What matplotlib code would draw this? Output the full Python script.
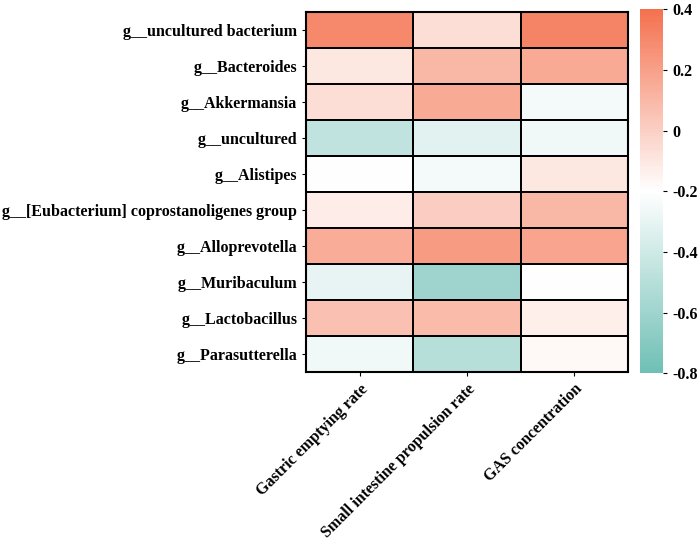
import numpy as np
import matplotlib.pyplot as plt
from matplotlib.colors import LinearSegmentedColormap, TwoSlopeNorm

genera = ["g__uncultured bacterium", "g__Bacteroides", "g__Akkermansia", "g__uncultured",
          "g__Alistipes", "g__[Eubacterium] coprostanoligenes group", "g__Alloprevotella",
          "g__Muribaculum", "g__Lactobacillus", "g__Parasutterella"]
traits = ["Gastric emptying rate", "Small intestine propulsion rate", "GAS concentration"]

gastric = [0.30, -0.10, -0.06, -0.46, -0.20, -0.12, 0.15, -0.30, 0.06, -0.26]
intestine = [-0.06, 0.10, 0.16, -0.32, -0.25, 0.01, 0.22, -0.60, 0.09, -0.50]
gas = [0.32, 0.16, -0.25, -0.26, -0.10, 0.10, 0.18, -0.20, -0.13, -0.17]

vals = np.array([gastric, intestine, gas]).T

plt.rcParams['font.family'] = ['Liberation Serif', 'DejaVu Serif']
plt.rcParams['font.weight'] = 'bold'

cmap = LinearSegmentedColormap.from_list("tw", ["#6fbfb5", "#ffffff", "#f4714f"])
norm = TwoSlopeNorm(vcenter=-0.2, vmin=-0.8, vmax=0.4)

fig = plt.figure(figsize=(6.99, 5.44), dpi=100)
ax = fig.add_axes([0.438, 0.316, 0.46, 0.662])
cax = fig.add_axes([0.916, 0.314, 0.033, 0.669])

mesh = ax.pcolormesh(vals, cmap=cmap, norm=norm, edgecolors="black", linewidth=1.2)
ax.set_xlim(0, 3)
ax.set_ylim(10, 0)
ax.set_xticks(np.arange(3) + 0.5)
ax.set_xticklabels(traits, rotation=45, ha="right", rotation_mode="anchor", fontsize=11.5)
ax.set_yticks(np.arange(10) + 0.5)
ax.set_yticklabels(genera, fontsize=11.5)
for s in ax.spines.values():
    s.set_linewidth(1.5)
ax.tick_params(length=3, width=0.8)

cb = fig.colorbar(mesh, cax=cax)
cb.set_ticks([0.4, 0.2, 0, -0.2, -0.4, -0.6, -0.8])
cb.set_ticklabels(["0.4", "0.2", "0", "-0.2", "-0.4", "-0.6", "-0.8"])
cb.ax.tick_params(length=3, width=0.8, labelsize=11.5)
cb.outline.set_visible(False)

fig.savefig("out.png", dpi=100)
